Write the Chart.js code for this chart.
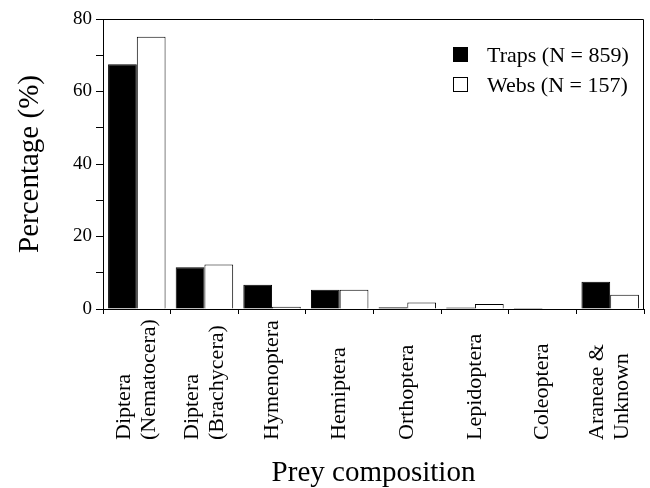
<!DOCTYPE html>
<html>
<head>
<meta charset="utf-8">
<script src="https://cdn.jsdelivr.net/npm/chart.js@4/dist/chart.umd.min.js"></script>
<style>
  html, body { margin: 0; padding: 0; background: #fff; }
  #wrap { width: 650px; height: 488px; }
</style>
</head>
<body>
<div id="wrap"><canvas id="c" width="650" height="488"></canvas></div>
<script>
const categories = [
  ['Diptera', '(Nematocera)'],
  ['Diptera', '(Brachycera)'],
  'Hymenoptera',
  'Hemiptera',
  'Orthoptera',
  'Lepidoptera',
  'Coleoptera',
  ['Araneae &', 'Unknown']
];
const trapsLabel = 'Traps (N = 859)';
const websLabel = 'Webs (N = 157)';
const trapsValues = [67.5, 11.5, 6.7, 5.3, 0.5, 0.4, 0.3, 7.5];
const websValues = [75.1, 12.3, 0.6, 5.3, 1.8, 1.4, 0, 3.9];
const yTicks = [0, 20, 40, 60, 80];
const yTitle = 'Percentage (%)';
const xTitle = 'Prey composition';

const serif = '"Liberation Serif", "Times New Roman", serif';

const boxPlugin = {
  id: 'box',
  afterDraw(chart) {
    const { ctx, chartArea: a } = chart;
    ctx.save();
    ctx.strokeStyle = '#000';
    ctx.lineWidth = 1;
    ctx.beginPath();
    ctx.moveTo(a.left, a.top + 0.5);
    ctx.lineTo(a.right - 0.5, a.top + 0.5);
    ctx.lineTo(a.right - 0.5, a.bottom);
    ctx.stroke();
    ctx.restore();
  }
};

// Rotated category labels, aligned at their start (far from the axis), as in the figure
const xLabelPlugin = {
  id: 'xLabels',
  afterDraw(chart) {
    const { ctx } = chart;
    const scale = chart.scales.x;
    const startY = scale.bottom - 48;
    const lineGap = 25;
    ctx.save();
    ctx.font = '22px ' + serif;
    ctx.fillStyle = '#000';
    ctx.textAlign = 'left';
    ctx.textBaseline = 'middle';
    chart.data.labels.forEach((lab, i) => {
      const lines = Array.isArray(lab) ? lab : [lab];
      const x = scale.getPixelForTick(i);
      ctx.save();
      ctx.translate(x, startY);
      ctx.rotate(-Math.PI / 2);
      lines.forEach((ln, j) => {
        ctx.fillText(ln, 0, (j - (lines.length - 1) / 2) * lineGap);
      });
      ctx.restore();
    });
    ctx.restore();
  }
};

const legendPlugin = {
  id: 'innerLegend',
  afterDraw(chart) {
    const { ctx } = chart;
    ctx.save();
    ctx.font = '22px ' + serif;
    ctx.textBaseline = 'alphabetic';
    ctx.textAlign = 'left';
    const x0 = 453, size = 15, textX = 487;
    const baselines = [62, 92];
    chart.data.datasets.forEach((ds, i) => {
      const by = baselines[i];
      ctx.fillStyle = ds.backgroundColor;
      ctx.fillRect(x0, by - size, size, size);
      ctx.strokeStyle = '#000';
      ctx.lineWidth = 1;
      ctx.strokeRect(x0 + 0.5, by - size + 0.5, size - 1, size - 1);
      ctx.fillStyle = '#000';
      ctx.fillText(ds.label, textX, by);
    });
    ctx.restore();
  }
};

new Chart(document.getElementById('c'), {
  type: 'bar',
  data: {
    labels: categories,
    datasets: [
      { label: trapsLabel, data: trapsValues, backgroundColor: '#000', borderColor: '#000', borderWidth: 1 },
      { label: websLabel, data: websValues, backgroundColor: '#fff', borderColor: '#000', borderWidth: 1 }
    ]
  },
  options: {
    responsive: false,
    animation: false,
    layout: { padding: { top: 19, right: 6, left: 0, bottom: 0 } },
    plugins: { legend: { display: false }, tooltip: { enabled: false } },
    datasets: { bar: { categoryPercentage: 0.85, barPercentage: 1.0 } },
    scales: {
      x: {
        grid: { offset: true, drawOnChartArea: false, tickLength: 5, color: '#000' },
        border: { color: '#000', width: 1 },
        ticks: { display: false, autoSkip: false },
        title: {
          display: true, text: xTitle, color: '#000',
          font: { family: serif, size: 29, lineHeight: 1.0 }, padding: { top: 0, bottom: 0 }
        },
        afterFit(scale) {
          scale.height = 179;
          scale.paddingLeft = 0;
          scale.paddingRight = 0;
        }
      },
      y: {
        min: 0, max: 80,
        afterBuildTicks(scale) {
          const t = [];
          for (let v = 0; v <= 80; v += 10) t.push({ value: v });
          scale.ticks = t;
        },
        grid: { drawOnChartArea: false, tickLength: 7, color: '#000' },
        border: { color: '#000', width: 1 },
        ticks: {
          color: '#000',
          font: { family: serif, size: 19 },
          padding: 4,
          callback: (v) => yTicks.includes(v) ? String(v) : ''
        },
        title: {
          display: true, text: yTitle, color: '#000',
          font: { family: serif, size: 29 }, padding: { top: 13, bottom: 0 }
        },
        afterFit(scale) {
          scale.width = 103;
          scale.paddingTop = 0;
          scale.paddingBottom = 0;
        }
      }
    }
  },
  plugins: [boxPlugin, xLabelPlugin, legendPlugin]
});
</script>
</body>
</html>
